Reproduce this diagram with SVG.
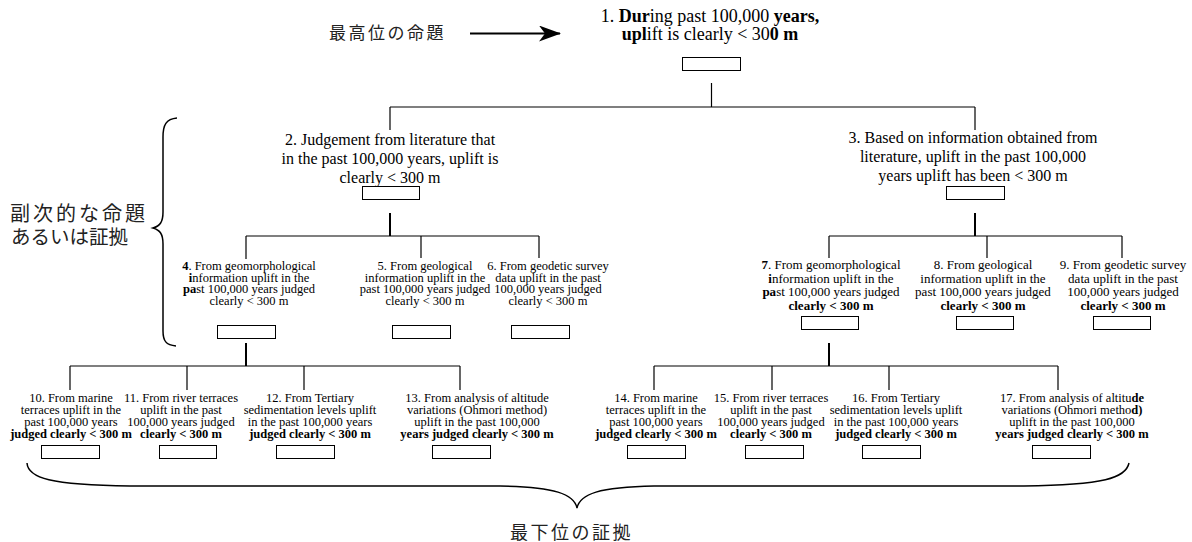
<svg xmlns="http://www.w3.org/2000/svg" width="1192" height="542" viewBox="0 0 1192 542">
  <style>
    .t { font-family: "Liberation Serif", "Times New Roman", serif; fill: #000; text-anchor: middle; }
    .s1 { font-size: 18px; }
    .s2 { font-size: 16px; }
    .s3 { font-size: 13px; }
    .s3n { font-size: 12.5px; }
    .s4 { font-size: 12.5px; }
    .b { font-weight: bold; }
    .jp { font-family: "Noto Sans CJK JP", "Noto Sans CJK SC", sans-serif; fill: #222; }
    .box { fill: #fff; stroke: #000; stroke-width: 1; }
    .c { stroke: #000; stroke-width: 1.2; fill: none; }
    .ck { stroke-width: 2; }
    .brace { stroke: #000; stroke-width: 1.5; fill: none; }
  </style>
  <defs>
    <marker id="head" viewBox="0 0 22 16" refX="21" refY="8" markerWidth="22" markerHeight="16" markerUnits="userSpaceOnUse" orient="auto">
      <path d="M0 0 L22 8 L0 16 L6 8 Z" fill="#000"/>
    </marker>
  </defs>
  <rect width="1192" height="542" fill="#fff"/>

  <!-- side annotations -->
  <g id="label-top">
    <text class="jp" x="329" y="39" font-size="17" letter-spacing="2.5">最高位の命題</text>
    <line x1="470" y1="33.5" x2="560" y2="33.5" stroke="#000" stroke-width="2" marker-end="url(#head)"/>
  </g>
  <g id="label-mid">
    <path class="brace" d="M177 118 C166 119 163 125 163 137 L163 212 C163 222 160 226 153 228 C160 230 163 234 163 244 L163 331 C163 341 166 345 176 346"/>
    <text class="jp" x="10" y="221" font-size="20" letter-spacing="3">副次的な命題</text>
    <text class="jp" x="11" y="244" font-size="19.5">あるいは証拠</text>
  </g>
  <g id="label-bottom">
    <path class="brace" d="M27 463 C28 478 50 485 130 486 L500 486 C555 487 574 494 577 508 C580 494 599 487 654 486 L1024 486 C1104 485 1126 478 1129 463"/>
    <text class="jp" x="510" y="539" font-size="18" letter-spacing="2.5">最下位の証拠</text>
  </g>

  <!-- connectors -->
  <g id="connectors">
    <line class="c" x1="711.5" y1="83" x2="711.5" y2="107"/>
    <line class="c" x1="390" y1="107" x2="975" y2="107"/>
    <line class="c" x1="390" y1="107" x2="390" y2="130"/>
    <line class="c" x1="975" y1="107" x2="975" y2="130"/>

    <line class="c ck" x1="390" y1="213" x2="390" y2="236"/>
    <line class="c" x1="246" y1="236" x2="539" y2="236"/>
    <line class="c" x1="246" y1="236" x2="246" y2="259"/>
    <line class="c" x1="421" y1="236" x2="421" y2="258"/>
    <line class="c" x1="539" y1="236" x2="539" y2="258"/>

    <line class="c ck" x1="975" y1="213" x2="975" y2="236"/>
    <line class="c" x1="829" y1="236" x2="1122" y2="236"/>
    <line class="c" x1="829" y1="236" x2="829" y2="258"/>
    <line class="c" x1="987" y1="236" x2="987" y2="258"/>
    <line class="c" x1="1122" y1="236" x2="1122" y2="258"/>

    <line class="c ck" x1="246" y1="343" x2="246" y2="366"/>
    <line class="c" x1="70" y1="366" x2="460" y2="366"/>
    <line class="c" x1="70" y1="366" x2="70" y2="390"/>
    <line class="c" x1="187" y1="366" x2="187" y2="390"/>
    <line class="c" x1="304" y1="366" x2="304" y2="390"/>
    <line class="c" x1="460" y1="366" x2="460" y2="390"/>

    <line class="c ck" x1="829" y1="343" x2="829" y2="366"/>
    <line class="c" x1="654" y1="366" x2="1058" y2="366"/>
    <line class="c" x1="654" y1="366" x2="654" y2="390"/>
    <line class="c" x1="772" y1="366" x2="772" y2="390"/>
    <line class="c" x1="889" y1="366" x2="889" y2="390"/>
    <line class="c" x1="1058" y1="366" x2="1058" y2="390"/>
  </g>

  <!-- top proposition -->
  <g id="n1">
    <text class="t s1"><tspan x="710" y="22">1. <tspan class="b">Dur</tspan>ing past 100,000 <tspan class="b">years,</tspan></tspan><tspan x="710" y="40"><tspan class="b">upl</tspan>ift is clearly &lt; 30<tspan class="b">0 m</tspan></tspan></text>
    <rect class="box" x="682.5" y="57.5" width="58" height="13"/>
  </g>

  <!-- secondary propositions -->
  <g id="n2">
    <text class="t s2"><tspan x="390" y="145">2. Judgement from literature that</tspan><tspan x="390" y="164">in the past 100,000 years, uplift is</tspan><tspan x="390" y="183">clearly &lt; 300 m</tspan></text>
    <rect class="box" x="362.5" y="186.5" width="57" height="13"/>
  </g>
  <g id="n3">
    <text class="t s2"><tspan x="973" y="143">3. Based on information obtained from</tspan><tspan x="973" y="162">literature, uplift in the past 100,000</tspan><tspan x="973" y="181">years uplift has been &lt; 300 m</tspan></text>
    <rect class="box" x="946.5" y="186.5" width="58" height="13"/>
  </g>

  <g id="n4">
    <text class="t s3n"><tspan x="249" y="270"><tspan class="b">4</tspan>. From geomorphological</tspan><tspan x="249" y="281.5"><tspan class="b">i</tspan>nformation uplift in the</tspan><tspan x="249" y="293"><tspan class="b">pa</tspan>st 100,000 years judged</tspan><tspan x="249" y="304.5">clearly &lt; 300 m</tspan></text>
    <rect class="box" x="217.5" y="325.5" width="58" height="13"/>
  </g>
  <g id="n5">
    <text class="t s3n"><tspan x="425" y="270">5. From geological</tspan><tspan x="425" y="281.5">information uplift in the</tspan><tspan x="425" y="293">past 100,000 years judged</tspan><tspan x="425" y="304.5">clearly &lt; 300 m</tspan></text>
    <rect class="box" x="392.5" y="325.5" width="58" height="13"/>
  </g>
  <g id="n6">
    <text class="t s3n"><tspan x="548" y="270">6. From geodetic survey</tspan><tspan x="548" y="281.5">data uplift in the past</tspan><tspan x="548" y="293">100,000 years judged</tspan><tspan x="548" y="304.5">clearly &lt; 300 m</tspan></text>
    <rect class="box" x="511.5" y="325.5" width="58" height="13"/>
  </g>

  <g id="n7">
    <text class="t s3"><tspan x="831" y="269"><tspan class="b">7</tspan>. From geomorphological</tspan><tspan x="831" y="282.5"><tspan class="b">i</tspan>nformation uplift in the</tspan><tspan x="831" y="296"><tspan class="b">pa</tspan>st 100,000 years judged</tspan><tspan x="831" y="309.5" class="b">clearly &lt; 300 m</tspan></text>
    <rect class="box" x="801.5" y="316.5" width="57" height="13"/>
  </g>
  <g id="n8">
    <text class="t s3"><tspan x="983" y="269">8. From geological</tspan><tspan x="983" y="282.5">information uplift in the</tspan><tspan x="983" y="296">past 100,000 years judged</tspan><tspan x="983" y="309.5" class="b">clearly &lt; 300 m</tspan></text>
    <rect class="box" x="956.5" y="316.5" width="57" height="13"/>
  </g>
  <g id="n9">
    <text class="t s3"><tspan x="1123" y="269">9. From geodetic survey</tspan><tspan x="1123" y="282.5">data uplift in the past</tspan><tspan x="1123" y="296">100,000 years judged</tspan><tspan x="1123" y="309.5" class="b">clearly &lt; 300 m</tspan></text>
    <rect class="box" x="1093.5" y="316.5" width="57" height="13"/>
  </g>

  <!-- lowest-level evidence -->
  <g id="n10">
    <text class="t s4"><tspan x="71" y="402">10. From marine</tspan><tspan x="71" y="414">terraces uplift in the</tspan><tspan x="71" y="426">past 100,000 years</tspan><tspan x="71" y="438" class="b">judged clearly &lt; 300 m</tspan></text>
    <rect class="box" x="41.5" y="445.5" width="58" height="13"/>
  </g>
  <g id="n11">
    <text class="t s4"><tspan x="181" y="402">11. From river terraces</tspan><tspan x="181" y="414">uplift in the past</tspan><tspan x="181" y="426">100,000 years judged</tspan><tspan x="181" y="438" class="b">clearly &lt; 300 m</tspan></text>
    <rect class="box" x="159.5" y="445.5" width="57" height="13"/>
  </g>
  <g id="n12">
    <text class="t s4"><tspan x="310" y="402">12. From Tertiary</tspan><tspan x="310" y="414">sedimentation levels uplift</tspan><tspan x="310" y="426">in the past 100,000 years</tspan><tspan x="310" y="438" class="b">judged clearly &lt; 300 m</tspan></text>
    <rect class="box" x="276.5" y="445.5" width="58" height="13"/>
  </g>
  <g id="n13">
    <text class="t s4"><tspan x="477" y="402">13. From analysis of altitude</tspan><tspan x="477" y="414">variations (Ohmori method)</tspan><tspan x="477" y="426">uplift in the past 100,000</tspan><tspan x="477" y="438" class="b">years judged clearly &lt; 300 m</tspan></text>
    <rect class="box" x="432.5" y="445.5" width="58" height="13"/>
  </g>
  <g id="n14">
    <text class="t s4"><tspan x="656" y="402">14. From marine</tspan><tspan x="656" y="414">terraces uplift in the</tspan><tspan x="656" y="426">past 100,000 years</tspan><tspan x="656" y="438" class="b">judged clearly &lt; 300 m</tspan></text>
    <rect class="box" x="627.5" y="445.5" width="58" height="13"/>
  </g>
  <g id="n15">
    <text class="t s4"><tspan x="771" y="402">15. From river terraces</tspan><tspan x="771" y="414">uplift in the past</tspan><tspan x="771" y="426">100,000 years judged</tspan><tspan x="771" y="438" class="b">clearly &lt; 300 m</tspan></text>
    <rect class="box" x="745.5" y="445.5" width="58" height="13"/>
  </g>
  <g id="n16">
    <text class="t s4"><tspan x="896" y="402">16. From Tertiary</tspan><tspan x="896" y="414">sedimentation levels uplift</tspan><tspan x="896" y="426">in the past 100,000 years</tspan><tspan x="896" y="438" class="b">judged clearly &lt; 300 m</tspan></text>
    <rect class="box" x="862.5" y="445.5" width="58" height="13"/>
  </g>
  <g id="n17">
    <text class="t s4"><tspan x="1072" y="402">17. From analysis of altitu<tspan class="b">de</tspan></tspan><tspan x="1072" y="414">variations (Ohmori metho<tspan class="b">d)</tspan></tspan><tspan x="1072" y="426">uplift in the past 100,000</tspan><tspan x="1072" y="438" class="b">years judged clearly &lt; 300 m</tspan></text>
    <rect class="box" x="1032.5" y="445.5" width="58" height="13"/>
  </g>
</svg>
